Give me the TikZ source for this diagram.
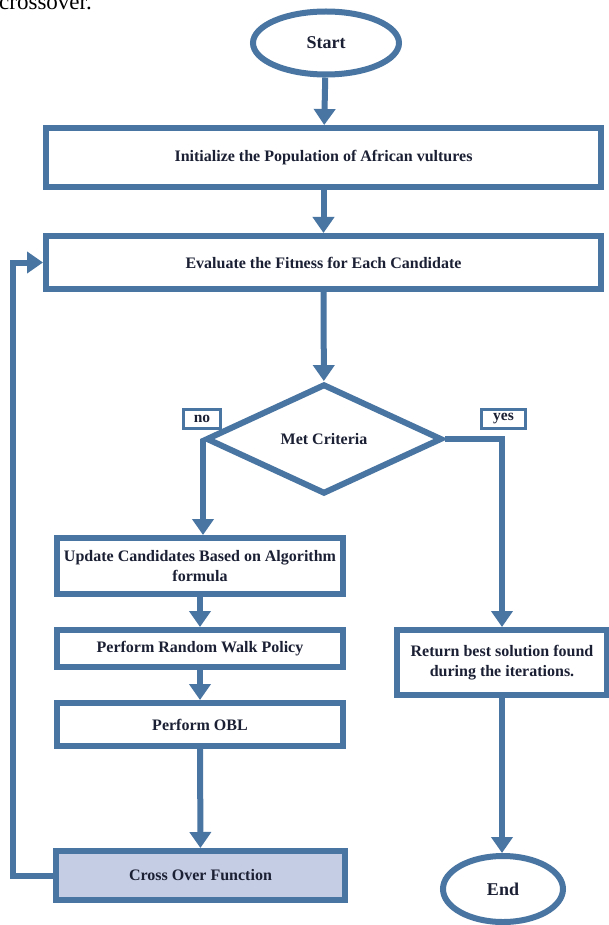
\documentclass[tikz,border=0pt]{standalone}
\usepackage{fontspec}
\setmainfont{Liberation Serif}
\usetikzlibrary{shapes.geometric,arrows.meta}
\definecolor{fbblue}{RGB}{72,117,162}
\definecolor{fbtext}{RGB}{28,32,52}
\definecolor{fbfill}{RGB}{197,205,228}
\begin{document}
\begin{tikzpicture}[x=1pt,y=-1pt,
  box/.style={draw=fbblue, line width=6pt, fill=white, inner sep=0pt, align=center,
    font=\bfseries\fontsize{16}{20}\selectfont, text=fbtext},
  term/.style={ellipse, draw=fbblue, line width=6pt, fill=white, inner sep=0pt,
    font=\bfseries\fontsize{18}{20}\selectfont, text=fbtext},
  tagbox/.style={draw=fbblue, line width=3.5pt, fill=white, inner sep=0pt,
    font=\bfseries\fontsize{15.5}{18}\selectfont, text=fbtext},
  arr/.style={draw=fbblue, line width=6pt, -{Triangle[length=16pt,width=21pt]}},
  link/.style={draw=fbblue, line width=6pt}]
\useasboundingbox[fill=white] (0,0) rectangle (609,925);
\begin{scope}
\clip (0,0) rectangle (609,925);
\node[anchor=base west, inner sep=0pt, font=\fontsize{23}{25}\selectfont] (cut) at (-1,10) {crossover.};

\node[term, minimum width=146pt, minimum height=63pt] (start) at (326,43) {Start};
\node[box, minimum width=555pt, minimum height=59pt] (init) at (323.5,157.5) {Initialize the Population of African vultures};
\node[box, minimum width=555pt, minimum height=53pt] (eval) at (323.5,262.5) {Evaluate the Fitness for Each Candidate};
\node[diamond, draw=fbblue, line width=6pt, fill=white, inner sep=0pt,
      minimum width=236pt, minimum height=110pt,
      font=\bfseries\fontsize{16}{18}\selectfont, text=fbtext] (dia) at (324,439) {Met Criteria};
\node[tagbox, minimum width=37pt, minimum height=19pt] (no) at (202,419) {no};
\node[tagbox, minimum width=44pt, minimum height=19pt] (yes) at (503.5,419) {yes};
\node[box, minimum width=286pt, minimum height=56pt] (upd) at (200,566) {Update Candidates Based on Algorithm\\formula};
\node[box, minimum width=286pt, minimum height=37pt] (rnd) at (200,648.5) {Perform Random Walk Policy};
\node[box, minimum width=286pt, minimum height=43pt] (obl) at (200,724.5) {Perform OBL};
\node[box, fill=fbfill, minimum width=289pt, minimum height=49pt] (cross) at (200.5,875.5) {Cross Over Function};
\node[box, minimum width=210pt, minimum height=65pt] (ret) at (502,662.5) {Return best solution found\\during the iterations.};
\node[term, minimum width=120pt, minimum height=66pt] (end) at (503,889) {End};

\coordinate (lp) at (12.5,875.5);

\draw[arr] (start) -- (init);
\draw[arr] (init) -- (eval);
\draw[arr] (eval) -- (dia);
\draw[arr] (dia.west) -- (dia.west |- upd.north);
\draw[arr] (dia.east) -| (ret.north);
\draw[arr] (upd) -- (rnd);
\draw[arr] (rnd) -- (obl);
\draw[arr] (obl) -- (cross);
\draw[arr] (ret) -- (ret.south |- end.north);
\draw[arr] (cross.west) -- (cross.west -| lp) |- (eval.west);
\end{scope}
\end{tikzpicture}
\end{document}
